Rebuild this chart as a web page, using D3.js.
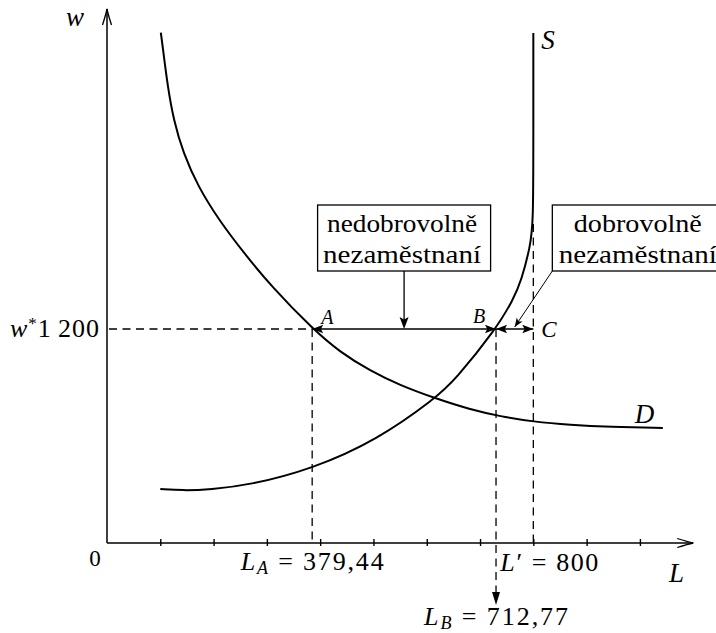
<!DOCTYPE html>
<html><head><meta charset="utf-8">
<script src="https://cdn.jsdelivr.net/npm/d3@7"></script>
<style>body{margin:0;background:#fff}svg{display:block}</style>
</head><body>
<svg id="c" width="716" height="633"></svg>
<script>
// ---- data ----
const demandL = [101,106,114,125,143,171,210,257,309,386,437,494,550,616,681,738,800,869,944,1043];
const demandW = [2862,2748,2559,2372,2187,1998,1811,1626,1437,1200,1071,965,884,811,749,710,680,662,651,645];
const supplyL = [100,143,193,268,385,507,616,653,730,762,778,794,800,800,800];
const supplyW = [303,294,300,325,415,578,811,914,1200,1363,1475,1662,1789,2300,2860];
const wageStar = 1200;
const pointNames = ["A","B","C"];
const pointL = [385, 730, 800];          // plotted positions of A, B, C
const xTicks = [100,200,300,400,500,600,700,800,900,1000];
const labelLA = "379,44";
const labelLB = "712,77";
const labelLprime = "800";
const labelWstar = "1\u2009200";
const box1Lines = ["nedobrovolně","nezaměstnaní"];
const box2Lines = ["dobrovolně","nezaměstnaní"];

// ---- font choice: first serif face that is really installed ----
function hasFont(f){
  const c = document.createElement("canvas").getContext("2d");
  const s = "nedobrovolně 379,44 wABCLSD";
  c.font = "40px monospace"; const m = c.measureText(s).width;
  c.font = `40px "${f}", monospace`; return Math.abs(c.measureText(s).width - m) > 0.5;
}
const cands = ["Liberation Serif","Tinos","DejaVu Serif","Noto Serif","FreeSerif","Times New Roman","Nimbus Roman","Nimbus Roman No9 L","Times"];
const found = cands.find(hasFont);
const FONT = found ? `"${found}", serif` : "serif";

// ---- drawing ----
const svg = d3.select("#c").style("font-family", FONT);
const x = d3.scaleLinear().domain([0,1100]).range([107,693.2]);
const y = d3.scaleLinear().domain([0,3000]).range([543,8]);
const X0 = x(0), Y0 = y(0);

function head(g, tx, ty, ang, len, hw, notch){
  const p = [[0,0],[-len,-hw],[-len*notch,0],[-len,hw]].map(([a,b])=>{
    const c=Math.cos(ang), s=Math.sin(ang);
    return [tx + a*c - b*s, ty + a*s + b*c];
  });
  g.append("path").attr("d","M"+p.map(d=>d.join(",")).join("L")+"Z").attr("fill","#000");
}
function openHead(g, tx, ty, ang){
  const c=Math.cos(ang), s=Math.sin(ang);
  const tr=(a,b)=>[tx+a*c-b*s, ty+a*s+b*c].join(",");
  g.append("path").attr("d",`M${tr(-16,-4.5)}Q${tr(-5,-1)} ${tr(0,0)}Q${tr(-5,1)} ${tr(-16,4.5)}`)
    .attr("fill","none").attr("stroke","#000").attr("stroke-width",1.3);
}

// ticks
const ax = svg.append("g").attr("transform",`translate(0,${Y0-4})`)
  .call(d3.axisBottom(x).tickValues(xTicks).tickSize(7).tickFormat(""));
ax.select(".domain").remove();
ax.selectAll(".tick line").attr("stroke","#000").attr("stroke-width",1.4);

// axes
svg.append("line").attr("x1",X0).attr("y1",Y0).attr("x2",x(1100)).attr("y2",Y0).attr("stroke","#000").attr("stroke-width",1.5);
svg.append("line").attr("x1",X0).attr("y1",Y0).attr("x2",X0).attr("y2",y(3000)+1).attr("stroke","#000").attr("stroke-width",1.5);
openHead(svg, x(1100), Y0, 0);
openHead(svg, X0, y(3000)+1, -Math.PI/2);

// dashed guides
const dash = "8,5.5";
const g = svg.append("g").attr("stroke","#000").attr("stroke-width",1.3).attr("stroke-dasharray",dash).attr("fill","none");
g.append("line").attr("x1",X0+2).attr("x2",x(pointL[0])).attr("y1",y(wageStar)).attr("y2",y(wageStar));
g.append("line").attr("x1",x(pointL[0])).attr("x2",x(pointL[0])).attr("y1",y(wageStar)).attr("y2",Y0);
g.append("line").attr("x1",x(pointL[1])).attr("x2",x(pointL[1])).attr("y1",y(wageStar)).attr("y2",Y0+50);
g.append("line").attr("x1",x(pointL[2])).attr("x2",x(pointL[2])).attr("y1",y(supplyW[12])).attr("y2",Y0);
head(svg, x(pointL[1]), Y0+62, Math.PI/2, 13, 4, 1);

// curves
const line = d3.line().x(d=>x(d[0])).y(d=>y(d[1])).curve(d3.curveBasis);
svg.append("path").attr("d",line(demandL.map((l,i)=>[l,demandW[i]])))
  .attr("fill","none").attr("stroke","#000").attr("stroke-width",2);
svg.append("path").attr("d",line(supplyL.map((l,i)=>[l,supplyW[i]])))
  .attr("fill","none").attr("stroke","#000").attr("stroke-width",2);

// double arrows on w*
const yw = y(wageStar);
const xa = x(pointL[0]), xb = x(pointL[1]), xc = x(pointL[2]);
svg.append("line").attr("x1",xa).attr("x2",xb).attr("y1",yw).attr("y2",yw).attr("stroke","#000").attr("stroke-width",1.4);
svg.append("line").attr("x1",xb).attr("x2",xc).attr("y1",yw).attr("y2",yw).attr("stroke","#000").attr("stroke-width",1.4);
head(svg, xa, yw, Math.PI, 11, 4.2, 0.8);
head(svg, xb, yw, 0, 11, 4.2, 0.8);
head(svg, xb, yw, Math.PI, 11, 4.2, 0.8);
head(svg, xc, yw, 0, 11, 4.2, 0.8);

// boxes
const boxW = 173, boxTop = 205, boxH = 66;
const mid1 = x((pointL[0]+pointL[1])/2);
const mid2 = x((pointL[1]+pointL[2])/2);
const b1x = mid1 - boxW/2, b2x = xc + 19;
const lineLens = [[150,158],[128,158]];
[[b1x,box1Lines],[b2x,box2Lines]].forEach(([bx,lines],k)=>{
  svg.append("rect").attr("x",bx).attr("y",boxTop).attr("width",boxW).attr("height",boxH)
    .attr("fill","#fff").attr("stroke","#000").attr("stroke-width",1.3);
  lines.forEach((t,i)=>svg.append("text").attr("x",bx+boxW/2+(k? -1:-2)).attr("y",boxTop+27+i*31)
    .attr("text-anchor","middle").attr("font-size",26)
    .attr("textLength",lineLens[k][i]).attr("lengthAdjust","spacingAndGlyphs").text(t));
});
svg.append("line").attr("x1",mid1).attr("x2",mid1).attr("y1",boxTop+boxH).attr("y2",yw-4).attr("stroke","#000").attr("stroke-width",1.3);
head(svg, mid1, yw, Math.PI/2, 12, 4.5, 0.8);
const ang2 = Math.atan2((yw-2)-(boxTop+boxH), mid2-b2x);
svg.append("line").attr("x1",b2x).attr("y1",boxTop+boxH).attr("x2",mid2).attr("y2",yw-2).attr("stroke","#000").attr("stroke-width",1);
head(svg, mid2, yw-2, ang2, 9, 3.5, 0.75);

// point and curve labels
function ital(xp, yp, t, size){
  return svg.append("text").attr("x",xp).attr("y",yp)
    .attr("font-style","italic").attr("font-size",size).text(t);
}
ital(xa+9, yw-5, pointNames[0], 20);
ital(xb-23, yw-6, pointNames[1], 20);
ital(xc+8, yw+8, pointNames[2], 23);
ital(x(800)+8, 49, "S", 27);
ital(x(1043)-28, 423, "D", 27);
ital(66, 26, "w", 27);
ital(669, 582, "L", 27);

// axis value labels
svg.append("text").attr("x",95).attr("y",566).attr("text-anchor","middle")
  .attr("font-size",23).text("0");
const wl = svg.append("text").attr("x",99).attr("y",yw+8).attr("text-anchor","end")
  .attr("font-size",26).attr("textLength",89).attr("lengthAdjust","spacing");
wl.append("tspan").attr("font-style","italic").text("w");
wl.append("tspan").attr("font-size",17).attr("dy",-8).text("*");
wl.append("tspan").attr("dy",8).text(labelWstar);

function subLabel(xp, yp, anchor, sub, val, prime, len){
  const t = svg.append("text").attr("x",xp).attr("y",yp).attr("text-anchor",anchor)
    .attr("font-size",26).attr("textLength",len).attr("lengthAdjust","spacing");
  t.append("tspan").attr("font-style","italic").text("L");
  if(sub){
    t.append("tspan").attr("font-style","italic").attr("font-size",18).attr("dy",4).text(sub);
    t.append("tspan").attr("dy",-4).text(" = "+val);
  } else {
    t.append("tspan").text(prime+" = "+val);
  }
}
subLabel(xa, 570, "middle", "A", labelLA, null, 143);
subLabel(xc-33, 571, "start", null, labelLprime, "\u2032", 98);
subLabel(xb, 625, "middle", "B", labelLB, null, 144);
</script>
</body></html>
